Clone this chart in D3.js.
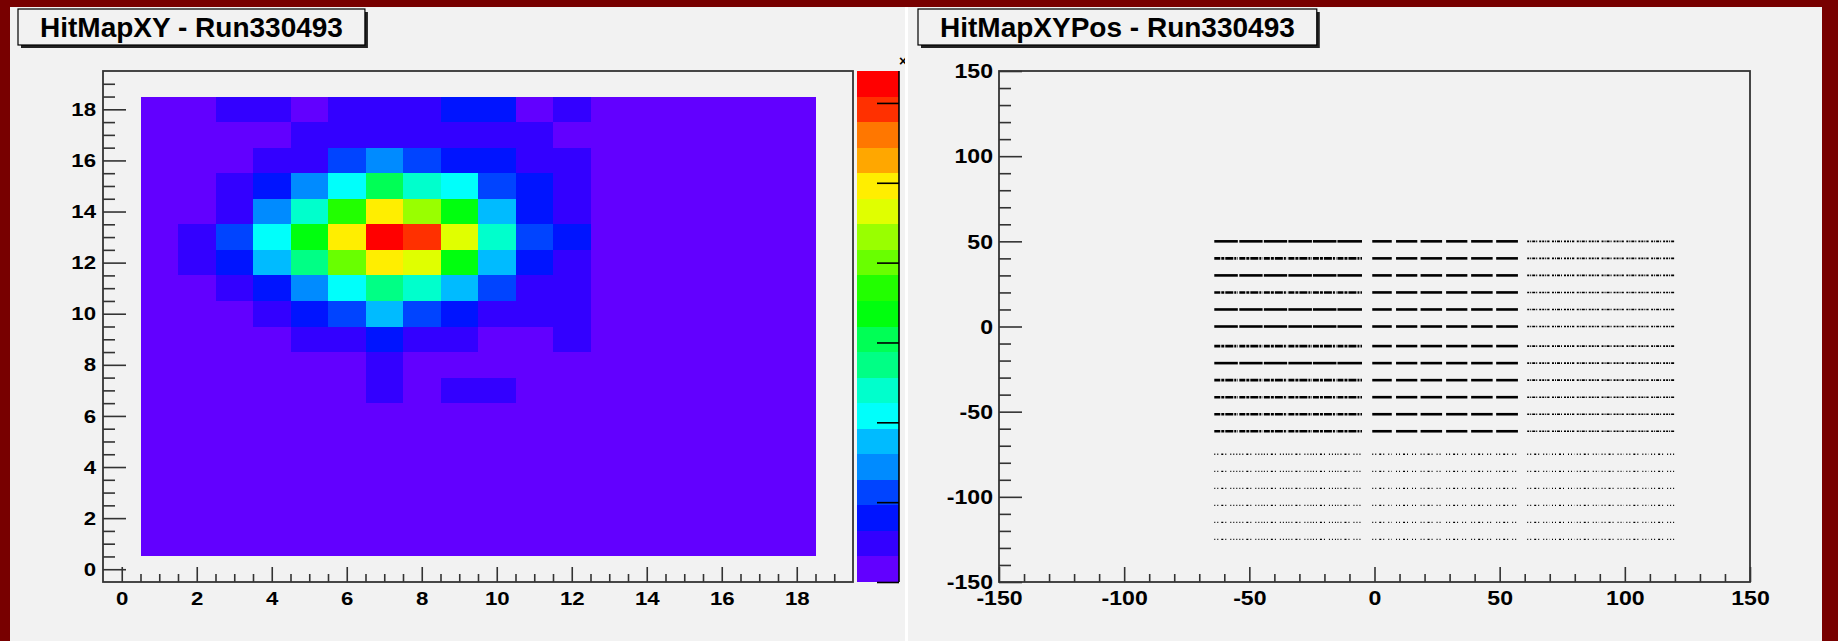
<!DOCTYPE html>
<html>
<head>
<meta charset="utf-8">
<script src="https://cdn.jsdelivr.net/npm/d3@7"></script>
<style>
html, body { margin: 0; padding: 0; background: #780000; overflow: hidden; }
text { font-family: "Liberation Sans", Arial, sans-serif; font-weight: bold; }
</style>
</head>
<body>
<script>
// ---- HitMapXY (left) ----
const binX = [1, 2, 3, 4, 5, 6, 7, 8, 9, 10, 11, 12, 13, 14, 15, 16, 17, 18];
const binY = [18, 17, 16, 15, 14, 13, 12, 11, 10, 9, 8, 7, 6, 5, 4, 3, 2, 1];
// bin contents, one row per binY, one entry per binX
const hitCounts = [
  [10, 10, 45, 45, 10, 45, 45, 45, 80, 80, 10, 45, 10, 10, 10, 10, 10, 10],
  [10, 10, 10, 10, 45, 45, 45, 45, 45, 45, 45, 10, 10, 10, 10, 10, 10, 10],
  [10, 10, 10, 45, 45, 110, 140, 110, 80, 80, 45, 45, 10, 10, 10, 10, 10, 10],
  [10, 10, 45, 80, 140, 205, 300, 235, 205, 110, 80, 45, 10, 10, 10, 10, 10, 10],
  [10, 10, 45, 140, 235, 365, 495, 430, 335, 175, 80, 45, 10, 10, 10, 10, 10, 10],
  [10, 45, 110, 205, 335, 495, 625, 590, 460, 235, 110, 80, 10, 10, 10, 10, 10, 10],
  [10, 45, 80, 175, 270, 400, 495, 460, 335, 175, 80, 45, 10, 10, 10, 10, 10, 10],
  [10, 10, 45, 80, 140, 205, 270, 235, 175, 110, 45, 45, 10, 10, 10, 10, 10, 10],
  [10, 10, 10, 45, 80, 110, 175, 110, 80, 45, 45, 45, 10, 10, 10, 10, 10, 10],
  [10, 10, 10, 10, 45, 45, 80, 45, 45, 10, 10, 45, 10, 10, 10, 10, 10, 10],
  [10, 10, 10, 10, 10, 10, 45, 10, 10, 10, 10, 10, 10, 10, 10, 10, 10, 10],
  [10, 10, 10, 10, 10, 10, 45, 10, 45, 45, 10, 10, 10, 10, 10, 10, 10, 10],
  [10, 10, 10, 10, 10, 10, 10, 10, 10, 10, 10, 10, 10, 10, 10, 10, 10, 10],
  [10, 10, 10, 10, 10, 10, 10, 10, 10, 10, 10, 10, 10, 10, 10, 10, 10, 10],
  [10, 10, 10, 10, 10, 10, 10, 10, 10, 10, 10, 10, 10, 10, 10, 10, 10, 10],
  [10, 10, 10, 10, 10, 10, 10, 10, 10, 10, 10, 10, 10, 10, 10, 10, 10, 10],
  [10, 10, 10, 10, 10, 10, 10, 10, 10, 10, 10, 10, 10, 10, 10, 10, 10, 10],
  [10, 10, 10, 10, 10, 10, 10, 10, 10, 10, 10, 10, 10, 10, 10, 10, 10, 10]
];
const zMax = 640;
const palette = ["#6200ff", "#3300ff", "#0014ff", "#0044ff", "#008bff", "#00bbff", "#00fffb", "#00ffcc",
  "#00ff85", "#00ff55", "#00ff0e", "#22ff00", "#69ff00", "#99ff00", "#e0ff00", "#ffee00",
  "#ffa700", "#ff7700", "#ff3000", "#ff0000"];
const xyTicks = [0, 2, 4, 6, 8, 10, 12, 14, 16, 18];
const zTicks = [0, 100, 200, 300, 400, 500, 600];

// ---- HitMapXYPos (right) ----
const stripY = [50, 40, 30, 20, 10, 0, -11.5, -21.5, -31.5, -41.5, -51.5, -61.5, -75, -85, -95, -105, -115, -125];
const chipX0 = [-64, -54, -44.2, -34.4, -24.6, -14.8, -0.9, 8.6, 18.4, 28.6, 38.6, 48.6, 61, 70.9, 80.8, 90.7, 100.6, 110.5];
const chipX1 = [-54.6, -44.7, -34.9, -25, -15.2, -5, 6.9, 17.1, 27, 37.1, 47.2, 57.3, 69.9, 79.8, 89.7, 99.6, 109.5, 120];
const chipGroup = [0, 0, 0, 0, 0, 0, 1, 1, 1, 1, 1, 1, 2, 2, 2, 2, 2, 2];
// hit density per strip and chip group: 3 full, 2 broken, 1 light, 0 sparse
const stripDensity = [
  [3, 3, 1], [2, 3, 1], [3, 3, 1], [2, 3, 1], [3, 3, 1], [3, 3, 1],
  [2, 3, 1], [3, 3, 1], [2, 3, 1], [2, 3, 1], [2, 3, 1], [2, 3, 1],
  [0, 0, 0], [0, 0, 0], [0, 0, 0], [0, 0, 0], [0, 0, 0], [0, 0, 0]
];
const posTicks = [-150, -100, -50, 0, 50, 100, 150];

const W = 1838, H = 641;
const svg = d3.select("body").append("svg").attr("width", W).attr("height", H);

svg.append("rect").attr("width", W).attr("height", H).attr("fill", "#780000");
svg.append("rect").attr("x", 10).attr("y", 7).attr("width", 895).attr("height", H - 7).attr("fill", "#f2f2f2");
svg.append("rect").attr("x", 905).attr("y", 7).attr("width", 3).attr("height", H - 7).attr("fill", "#ffffff");
svg.append("rect").attr("x", 908).attr("y", 7).attr("width", 914).attr("height", H - 7).attr("fill", "#f2f2f2");

const defs = svg.append("defs");
defs.append("clipPath").attr("id", "leftpad").append("rect")
  .attr("x", 10).attr("y", 7).attr("width", 895).attr("height", H - 7);

function stretch(sel, k) {
  sel.each(function() {
    const w = this.getComputedTextLength();
    this.setAttribute("textLength", w * k);
    this.setAttribute("lengthAdjust", "spacingAndGlyphs");
  });
}

function styleAxis(g, size, k) {
  g.select(".domain").remove();
  g.selectAll(".tick line").attr("stroke", "#333").attr("stroke-width", 1.6);
  g.selectAll("text").attr("font-size", size).attr("fill", "#000")
    .attr("font-family", "Liberation Sans, Arial, sans-serif").attr("font-weight", "bold");
  stretch(g.selectAll("text"), k);
}

function titleBox(x, label) {
  const g = svg.append("g");
  const t = g.append("text").attr("x", x + 22).attr("y", 37).attr("font-size", 28).text(label);
  const w = t.node().getComputedTextLength();
  g.insert("rect", "text").attr("x", x + 3).attr("y", 12).attr("width", w + 44).attr("height", 36).attr("fill", "#222");
  g.insert("rect", "text").attr("x", x).attr("y", 9).attr("width", w + 44).attr("height", 36)
    .attr("fill", "#f2f2f2").attr("stroke", "#000").attr("stroke-width", 1.2);
}

const plain = d => String(d);

// ---------- left: HitMapXY ----------
const left = svg.append("g").attr("clip-path", "url(#leftpad)");
const lx = d3.scaleLinear().domain([-0.5, 19.5]).range([103, 853]);
const ly = d3.scaleLinear().domain([-0.5, 19.5]).range([582, 71]);
const zColor = d3.scaleQuantize().domain([0, zMax]).range(palette);

const cells = [];
hitCounts.forEach((row, i) => row.forEach((v, j) => cells.push({ x: binX[j], y: binY[i], v: v })));

left.append("g").attr("shape-rendering", "crispEdges")
  .selectAll("rect").data(cells).enter().append("rect")
  .attr("x", d => lx(d.x - 0.5))
  .attr("y", d => ly(d.y + 0.5))
  .attr("width", d => lx(d.x + 0.5) - lx(d.x - 0.5))
  .attr("height", d => ly(d.y - 0.5) - ly(d.y + 0.5))
  .attr("fill", d => zColor(d.v));

const minorXY = d3.range(0.5, 19.01, 0.5).filter(v => xyTicks.indexOf(v) < 0);

left.append("g").attr("transform", "translate(0,582)")
  .call(d3.axisBottom(lx).tickValues(minorXY).tickSize(-8).tickFormat(""))
  .call(styleAxis, 19, 1.17);
left.append("g").attr("transform", "translate(0,582)")
  .call(d3.axisBottom(lx).tickValues(xyTicks).tickSize(-15).tickPadding(10).tickFormat(plain))
  .call(styleAxis, 19, 1.17);
left.append("g").attr("transform", "translate(103,0)")
  .call(d3.axisLeft(ly).tickValues(minorXY).tickSize(-12).tickFormat(""))
  .call(styleAxis, 19, 1.17);
left.append("g").attr("transform", "translate(103,0)")
  .call(d3.axisLeft(ly).tickValues(xyTicks).tickSize(-23).tickPadding(7).tickFormat(plain))
  .call(styleAxis, 19, 1.17);

left.append("rect").attr("x", 103).attr("y", 71).attr("width", 750).attr("height", 511)
  .attr("fill", "none").attr("stroke", "#333").attr("stroke-width", 1.8);

// colour scale
const cb = d3.scaleLinear().domain([0, zMax]).range([582, 71]);
const step = zMax / palette.length;
left.append("g").attr("shape-rendering", "crispEdges")
  .selectAll("rect").data(palette).enter().append("rect")
  .attr("x", 857).attr("width", 42)
  .attr("y", (c, i) => cb((i + 1) * step))
  .attr("height", (c, i) => cb(i * step) - cb((i + 1) * step))
  .attr("fill", c => c);
left.append("line").attr("x1", 899).attr("x2", 899).attr("y1", 71).attr("y2", 582)
  .attr("stroke", "#000").attr("stroke-width", 1.6);
left.append("g").attr("transform", "translate(899,0)")
  .call(d3.axisRight(cb).tickValues(zTicks).tickSize(-22).tickPadding(6).tickFormat(plain))
  .call(styleAxis, 19, 1.0)
  .selectAll(".tick line").attr("stroke", "#000");
left.append("text").attr("x", 899).attr("y", 66).attr("font-size", 14).attr("font-weight", "normal").text("×10");

titleBox(18, "HitMapXY - Run330493");

// ---------- right: HitMapXYPos ----------
const right = svg.append("g");
const px = d3.scaleLinear().domain([-150, 150]).range([999, 1750]);
const py = d3.scaleLinear().domain([-150, 150]).range([582, 71]);

const dashStyle = {
  3: { dash: null, w: 2.6 },
  2: { dash: "6 1 3 1 8 1 2 1 4 1", w: 2.6 },
  1: { dash: "2 1 1 1 3 1 1 2 2 1", w: 1.6 },
  0: { dash: "1 2 1 3 2 2 1 4 1 2", w: 1.3 }
};
const hits = [];
stripY.forEach((y, i) => chipX0.forEach((x0, j) => {
  hits.push({ y: y, x0: x0, x1: chipX1[j], d: stripDensity[i][chipGroup[j]] });
}));
right.append("g").selectAll("line").data(hits).enter().append("line")
  .attr("x1", d => px(d.x0)).attr("x2", d => px(d.x1))
  .attr("y1", d => py(d.y)).attr("y2", d => py(d.y))
  .attr("stroke", "#000")
  .attr("stroke-width", d => dashStyle[d.d].w)
  .attr("stroke-dasharray", d => dashStyle[d.d].dash);

const minorPos = d3.range(-140, 141, 10).filter(v => posTicks.indexOf(v) < 0);
right.append("g").attr("transform", "translate(0,582)")
  .call(d3.axisBottom(px).tickValues(minorPos).tickSize(-8).tickFormat(""))
  .call(styleAxis, 21, 1.1);
right.append("g").attr("transform", "translate(0,582)")
  .call(d3.axisBottom(px).tickValues(posTicks).tickSize(-15).tickPadding(8).tickFormat(plain))
  .call(styleAxis, 21, 1.1);
right.append("g").attr("transform", "translate(999,0)")
  .call(d3.axisLeft(py).tickValues(minorPos).tickSize(-12).tickFormat(""))
  .call(styleAxis, 21, 1.1);
right.append("g").attr("transform", "translate(999,0)")
  .call(d3.axisLeft(py).tickValues(posTicks).tickSize(-23).tickPadding(6).tickFormat(plain))
  .call(styleAxis, 21, 1.1);
right.append("rect").attr("x", 999).attr("y", 71).attr("width", 751).attr("height", 511)
  .attr("fill", "none").attr("stroke", "#333").attr("stroke-width", 1.8);

titleBox(918, "HitMapXYPos - Run330493");
</script>
</body>
</html>
